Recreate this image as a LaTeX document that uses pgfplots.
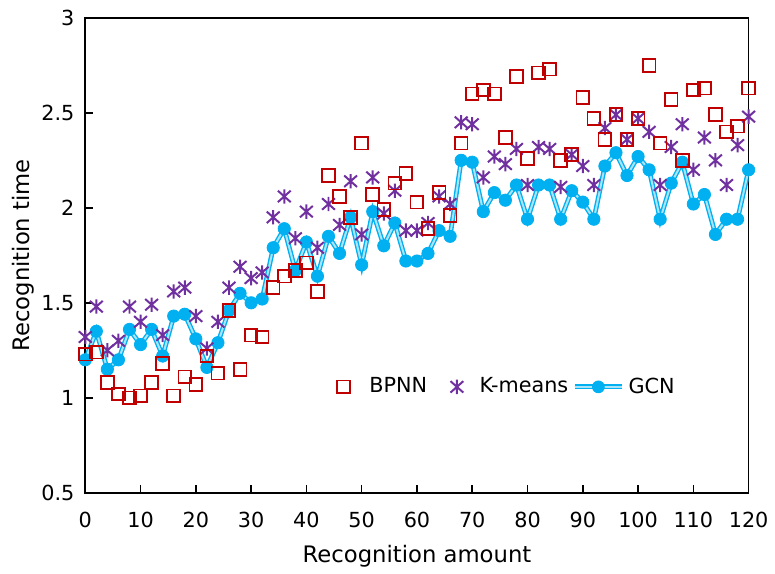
\documentclass[border=0pt]{standalone}
\usepackage{pgfplots}
\pgfplotsset{compat=1.18}
\usepackage{pgfplotstable}
\usepackage{fontspec}
\setmainfont{DejaVu Sans}

\definecolor{bpnn}{RGB}{192,0,0}
\definecolor{kmeans}{RGB}{112,48,160}
\definecolor{gcn}{RGB}{0,176,240}
\definecolor{gcnlight}{RGB}{170,228,250}

% asterisk like the reference: vertical bar plus an X
\pgfdeclareplotmark{kstar}{%
  \pgfpathmoveto{\pgfpoint{0pt}{\pgfplotmarksize}}%
  \pgfpathlineto{\pgfpoint{0pt}{-\pgfplotmarksize}}%
  \pgfpathmoveto{\pgfpoint{-0.9\pgfplotmarksize}{0.8\pgfplotmarksize}}%
  \pgfpathlineto{\pgfpoint{0.9\pgfplotmarksize}{-0.8\pgfplotmarksize}}%
  \pgfpathmoveto{\pgfpoint{-0.9\pgfplotmarksize}{-0.8\pgfplotmarksize}}%
  \pgfpathlineto{\pgfpoint{0.9\pgfplotmarksize}{0.8\pgfplotmarksize}}%
  \pgfusepathqstroke}

\tikzset{
  bpnnstyle/.style={only marks, mark=square, mark size=3.2bp, color=bpnn, line width=0.9bp},
  kmstyle/.style={only marks, mark=kstar, mark size=3.6bp, color=kmeans, line width=1bp},
  gcnline/.style={draw=gcn, line width=0.7bp, double=gcnlight, double distance=1bp},
}

\pgfplotstableread{
x   bpnn kmeans gcn
0   1.23 1.32 1.20
2   1.24 1.48 1.35
4   1.08 1.25 1.15
6   1.02 1.30 1.20
8   1.00 1.48 1.36
10  1.01 1.40 1.28
12  1.08 1.49 1.36
14  1.18 1.33 1.22
16  1.01 1.56 1.43
18  1.11 1.58 1.44
20  1.07 1.43 1.31
22  1.22 1.26 1.16
24  1.13 1.40 1.29
26  1.46 1.58 1.46
28  1.15 1.69 1.55
30  1.33 1.63 1.50
32  1.32 1.66 1.52
34  1.58 1.95 1.79
36  1.64 2.06 1.89
38  1.67 1.84 1.67
40  1.71 1.98 1.82
42  1.56 1.79 1.64
44  2.17 2.02 1.85
46  2.06 1.91 1.76
48  1.95 2.14 1.95
50  2.34 1.86 1.70
52  2.07 2.16 1.98
54  1.99 1.97 1.80
56  2.13 2.09 1.92
58  2.18 1.88 1.72
60  2.03 1.88 1.72
62  1.89 1.92 1.76
64  2.08 2.06 1.88
66  1.96 2.02 1.85
68  2.34 2.45 2.25
70  2.60 2.44 2.24
72  2.62 2.16 1.98
74  2.60 2.27 2.08
76  2.37 2.23 2.04
78  2.69 2.31 2.12
80  2.26 2.12 1.94
82  2.71 2.32 2.12
84  2.73 2.31 2.12
86  2.25 2.11 1.94
88  2.28 2.28 2.09
90  2.58 2.22 2.03
92  2.47 2.12 1.94
94  2.36 2.42 2.22
96  2.49 2.49 2.29
98  2.36 2.36 2.17
100 2.47 2.47 2.27
102 2.75 2.40 2.20
104 2.34 2.12 1.94
106 2.57 2.32 2.13
108 2.25 2.44 2.24
110 2.62 2.20 2.02
112 2.63 2.37 2.07
114 2.49 2.25 1.86
116 2.40 2.12 1.94
118 2.43 2.33 1.94
120 2.63 2.48 2.20
}\results

\begin{document}
\begin{tikzpicture}
\begin{axis}[name=ax,
    scale only axis, width=334.5bp, height=239.5bp,
    xmin=0, xmax=120, ymin=0.5, ymax=3,
    xtick={0,10,...,120}, ytick={0.5,1,1.5,2,2.5,3},
    yticklabels={0.5,1,1.5,2,2.5,3},
    tick pos=left, tick align=inside, major tick length=4bp,
    axis line style={line width=0.8bp}, tick style={line width=0.8bp, black},
    /pgf/number format/assume math mode=true,
    font=\fontsize{11.5}{13}\selectfont,
    ticklabel style={font=\fontsize{10.5}{12}\selectfont},
    xticklabel style={yshift=-6bp},
    yticklabel style={xshift=-2bp},
    xlabel={Recognition amount}, ylabel={Recognition time},
    every axis x label/.style={at={(axis description cs:0.5,-0.133)}, anchor=center},
    every axis y label/.style={at={(axis description cs:-0.094,0.5)}, rotate=90, anchor=center},
    legend columns=3, reverse legend,
    legend style={draw=none, fill=none, at={(axis description cs:0.368,0.223)}, anchor=west,
        font=\fontsize{10.5}{12}\selectfont, /tikz/column sep=0bp},
]
\addplot[gcnline, forget plot] table[x=x, y=gcn] {\results};
\addplot[only marks, mark=*, mark size=3.1bp, color=gcn, fill=gcn,
    legend image code/.code={
        \draw[gcnline] (0bp,0bp) -- (24bp,0bp);
        \fill[gcn] (12bp,0bp) circle (3bp);}]
    table[x=x, y=gcn] {\results};
\addlegendentry{GCN}
\addplot[kmstyle,
    legend image code/.code={
        \draw[kmstyle] plot coordinates {(0bp,0bp)};
        \path[draw=none, fill=none] (-13bp,0bp) -- (9.5bp,0bp);}]
    table[x=x, y=kmeans] {\results};
\addlegendentry{K-means}
\addplot[bpnnstyle,
    legend image code/.code={
        \draw[bpnnstyle] plot coordinates {(0bp,0bp)};
        \path[draw=none, fill=none] (-4bp,0bp) -- (11bp,0bp);}]
    table[x=x, y=bpnn] {\results};
\addlegendentry{BPNN}
\end{axis}
\path ([shift={(-43bp,-36bp)}]ax.south west) rectangle ([shift={(10bp,9bp)}]ax.north east);
\end{tikzpicture}
\end{document}
